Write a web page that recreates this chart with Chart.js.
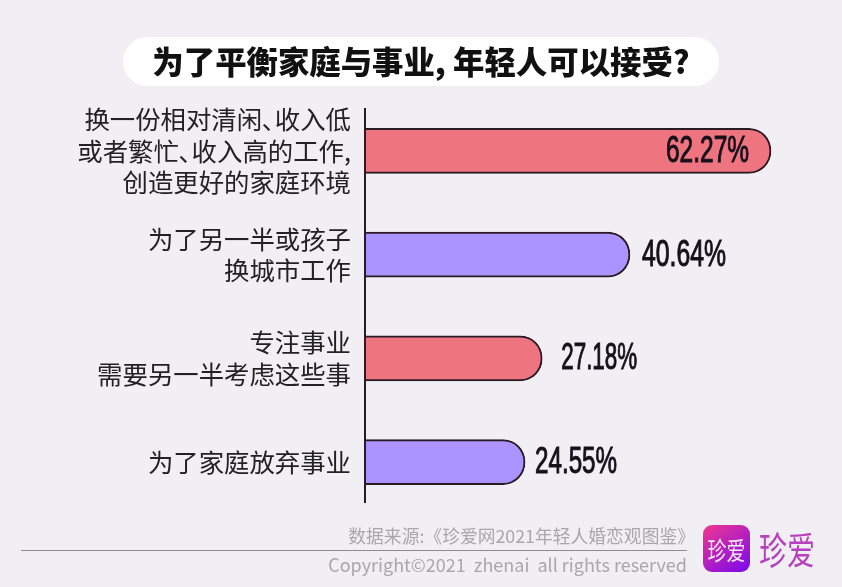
<!DOCTYPE html>
<html>
<head>
<meta charset="utf-8">
<script src="https://cdn.jsdelivr.net/npm/chart.js@4"></script>
<style>
  html, body { margin: 0; padding: 0; background: #f1eff3; }
  #wrap { position: relative; width: 842px; height: 587px; overflow: hidden; font-family: "Noto Sans CJK SC", sans-serif; }
  #revenue { position: absolute; left: 0; top: 0; }
  #title { position: absolute; left: 123px; top: 37px; width: 596px; height: 49px; line-height: 47px; border-radius: 25px; background: #fff; text-align: center; font-size: 31.4px; font-weight: 900; color: #111; white-space: nowrap; }
  #source { position: absolute; right: 147px; top: 523px; font-size: 17.8px; line-height: 24px; color: #aaa6ab; white-space: nowrap; }
  #rule { position: absolute; left: 21px; top: 550px; width: 666px; height: 1px; background: #8f8a8f; }
  #copy { position: absolute; right: 155px; top: 551px; font-size: 18px; line-height: 27px; color: #aaa6ab; white-space: nowrap; }
  #logo { position: absolute; left: 703px; top: 525px; width: 47px; height: 47px; border-radius: 9px; background: linear-gradient(145deg, #f0388f, #7a08ee); color: #f6e6f6; font-size: 19px; line-height: 47px; text-align: center; white-space: nowrap; }
  #logo span { display: inline-block; transform: scaleY(1.3); }
  #brand { position: absolute; left: 759px; top: 522px; font-size: 28px; line-height: 52px; color: #b640bd; white-space: nowrap; transform: scaleY(1.35); transform-origin: left center; }
</style>
</head>
<body>
<div id="wrap">
  <canvas id="revenue" width="842" height="587"></canvas>
  <div id="title">为了平衡家庭与事业, 年轻人可以接受?</div>
  <div id="source">数据来源:《珍爱网2021年轻人婚恋观图鉴》</div>
  <div id="rule"></div>
  <div id="copy">Copyright©2021&nbsp; zhenai&nbsp; all rights reserved</div>
  <div id="logo"><span>珍爱</span></div>
  <div id="brand">珍爱</div>
</div>
<script>
let categories = [
  ["换一份相对清闲､收入低", "或者繁忙､收入高的工作,", "创造更好的家庭环境"],
  ["为了另一半或孩子", "换城市工作"],
  ["专注事业", "需要另一半考虑这些事"],
  ["为了家庭放弃事业"],
];
let values = [62.27, 40.64, 27.18, 24.55];
let barColors = ["#ee7480", "#ab94ff", "#ee7480", "#ab94ff"];
// gap between bar end and its label, first one sits inside the bar
let labelGaps = [-22, 12, 19, 10];
let labelWidths = [83, 84, 76, 82];

const inkColor = "#2a1a24";

const axisLine = {
  id: "axisLine",
  afterDatasetsDraw(chart) {
    const x = chart.scales.x.getPixelForValue(0);
    const ctx = chart.ctx;
    ctx.save();
    ctx.strokeStyle = inkColor;
    ctx.lineWidth = 2;
    ctx.beginPath();
    ctx.moveTo(x, 108);
    ctx.lineTo(x, 503);
    ctx.stroke();
    ctx.restore();
  },
};

const valueLabels = {
  id: "valueLabels",
  afterDatasetsDraw(chart) {
    const ctx = chart.ctx;
    const squeeze = 0.72;
    chart.getDatasetMeta(0).data.forEach((bar, i) => {
      const gap = labelGaps[i];
      const text = values[i].toFixed(2) + "%";
      const maxWidth = labelWidths[i] / squeeze;
      ctx.save();
      ctx.translate(bar.x + gap, bar.y);
      ctx.scale(squeeze, 1);
      ctx.font = "36px 'Liberation Sans Narrow', 'Liberation Sans'";
      ctx.fillStyle = "#15101a";
      ctx.strokeStyle = "#15101a";
      ctx.lineWidth = 1;
      ctx.textBaseline = "middle";
      ctx.textAlign = gap < 0 ? "right" : "left";
      ctx.fillText(text, 0, 1, maxWidth);
      ctx.strokeText(text, 0, 1, maxWidth);
      ctx.restore();
    });
  },
};

new Chart(document.getElementById("revenue"), {
  type: "bar",
  data: {
    labels: categories,
    datasets: [
      {
        data: values,
        backgroundColor: barColors,
        borderColor: inkColor,
        borderWidth: 2,
        borderSkipped: "left",
        borderRadius: { topRight: 22, bottomRight: 22 },
        barThickness: 45,
      },
    ],
  },
  options: {
    indexAxis: "y",
    responsive: false,
    animation: false,
    layout: {
      padding: { top: 99, bottom: 73, left: 0, right: 20.6 },
    },
    plugins: {
      legend: { display: false },
      tooltip: { enabled: false },
    },
    scales: {
      x: {
        min: 0,
        max: 70,
        display: false,
      },
      y: {
        grid: { display: false, drawTicks: false },
        border: { display: false },
        afterFit(scale) {
          scale.width = 365;
        },
        ticks: {
          color: "#222",
          padding: 14,
          font: { family: "'Noto Sans CJK SC'", size: 25.4, lineHeight: 1.23 },
        },
      },
    },
  },
  plugins: [axisLine, valueLabels],
});
</script>
</body>
</html>
